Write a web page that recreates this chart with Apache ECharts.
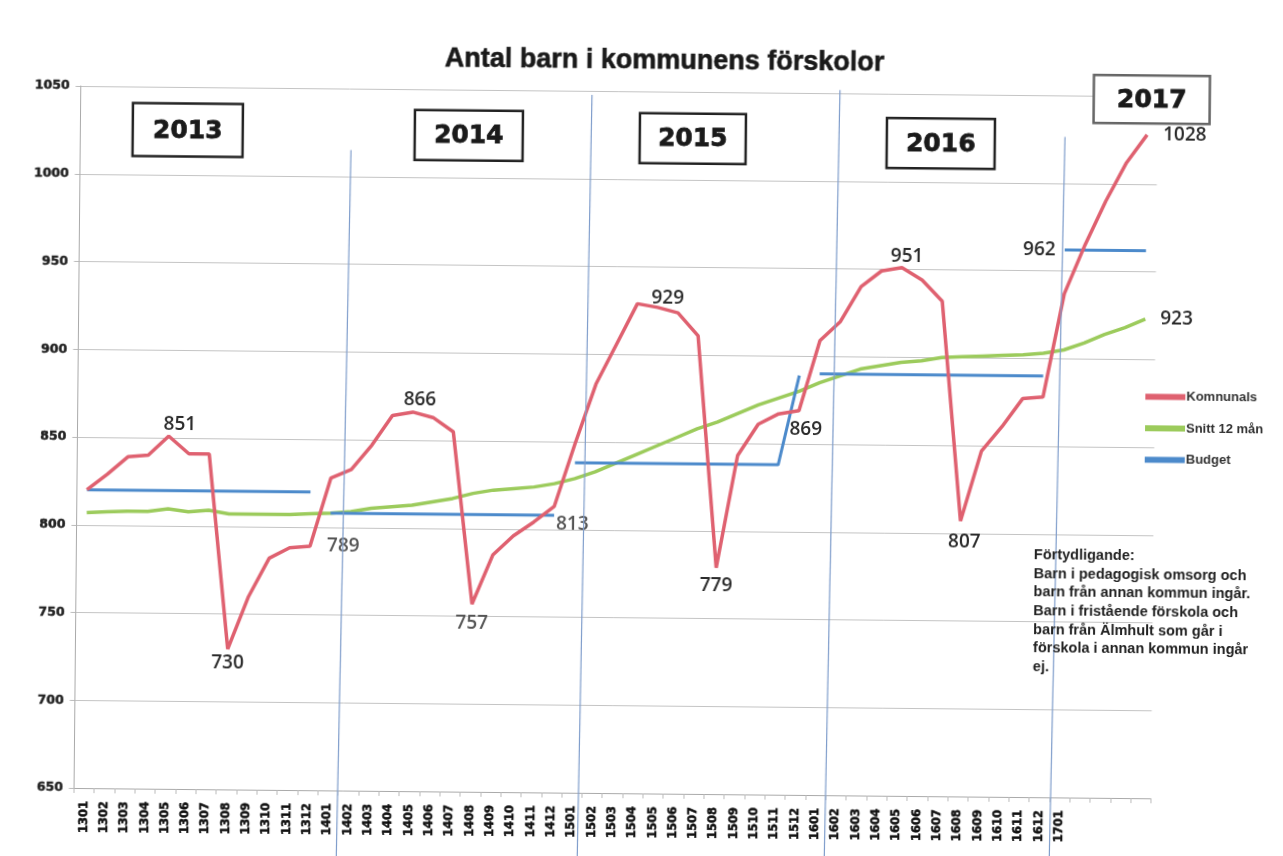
<!DOCTYPE html>
<html>
<head>
<meta charset="utf-8">
<script src="https://cdn.jsdelivr.net/npm/echarts@6/dist/echarts.min.js"></script>
<style>
html,body{margin:0;padding:0;background:#fff;overflow:hidden}
#c{width:1283px;height:856px;transform:rotate(0.55deg);transform-origin:80px 428px}
</style>
</head>
<body>
<div id="c"></div>
<script>
// ---- data ----
const months = ['1301','1302','1303','1304','1305','1306','1307','1308','1309','1310','1311','1312',
  '1401','1402','1403','1404','1405','1406','1407','1408','1409','1410','1411','1412',
  '1501','1502','1503','1504','1505','1506','1507','1508','1509','1510','1511','1512',
  '1601','1602','1603','1604','1605','1606','1607','1608','1609','1610','1611','1612',
  '1701','1702','1703','1704','1705'];
const lastLabelled = '1701';
const komnunals = [820,829,839,840,851,841,841,730,760,782,788,789,
  828,833,847,864,866,863,855,757,785,796,804,813,
  849,883,906,929,927,924,911,779,843,861,867,869,
  909,920,940,949,951,944,932,807,847,861,877,878,
  937,965,990,1012,1028];
const snitt12 = [807,807.5,808,808,809.5,808,809,807,807,807,807,807.5,
  808,809,811,812,813,815,817,820,822,823,824,826,
  829,833,838,843,848,853,858,862,867,872,876,880,
  885,889,893,895,897,898,900,900.5,901,901.5,902,903,
  905,909,914,918,923];
const budget2013 = [820,820,820,820,820,820,820,820,820,820,820,820];
const budget2014 = [808,808,808,808,808,808,808,808,808,808,808,808];
const budget2015 = [838,838,838,838,838,838,838,838,838,838,838,889];
const budget2016 = [890,890,890,890,890,890,890,890,890,890,890,890];
const budget2017 = [962,962,962,962,962];
const budgetStarts = ['1301','1401','1501','1601','1701'];
const yearBoxes = ['2013','2014','2015','2016','2017'];
const yTicks = {min:650, max:1050, interval:50};
const title = 'Antal barn i kommunens förskolor';
const seriesNames = ['Komnunals','Snitt 12 mån','Budget'];
const noteLines = ['Förtydligande:','Barn i pedagogisk omsorg och','barn från annan kommun ingår.',
  'Barn i fristående förskola och','barn från Älmhult som går i','förskola i annan kommun ingår','ej.'];
const redLabelMonths = ['1305','1308','1312','1405','1408','1412','1504','1508','1512','1605','1608','1705'];

// ---- styling / placement ----
const RED='#DF6170', GREEN='#9CCB5C', BLUE='#4C8ACB';
const lblBase = {show:true, fontFamily:'Open Sans', fontWeight:600, fontSize:19, color:'#2b2b2b'};
const placement = {
  '1305':{position:'top',distance:2,offset:[11,0]},
  '1308':{position:'bottom',distance:4},
  '1312':{position:'right',distance:17,color:'#555'},
  '1405':{position:'top',distance:3,offset:[7,0]},
  '1408':{position:'bottom',distance:10,color:'#555'},
  '1412':{position:'right',distance:2,offset:[0,18],color:'#555'},
  '1504':{position:'right',distance:14,offset:[0,-6]},
  '1508':{position:'bottom',distance:8},
  '1512':{position:'bottom',distance:9,offset:[7,0]},
  '1605':{position:'top',distance:2,offset:[5,0]},
  '1608':{position:'bottom',distance:12,offset:[4,0]},
  '1705':{position:'right',distance:16}
};
const THETA = 0.55*Math.PI/180, OX=80, OY=428;
// convert a position measured on the (tilted) reference into the un-tilted page frame
function unrot(x,y){const dx=x-OX, dy=y-OY, c=Math.cos(THETA), s=Math.sin(THETA);
  return [OX+dx*c+dy*s, OY-dx*s+dy*c];}

const redData = komnunals.map((v,i)=>{
  const m = months[i];
  return redLabelMonths.includes(m) ? {value:v, label:Object.assign({}, lblBase, placement[m])} : v;
});
const greenData = snitt12.map((v,i)=> i===snitt12.length-1 ?
  {value:v, label:Object.assign({}, lblBase,{position:'right',distance:15})} : v);

const budgets = [budget2013,budget2014,budget2015,budget2016,budget2017];
const budgetSeries = budgets.map((arr,k)=>{
  const start = months.indexOf(budgetStarts[k]);
  const data = months.map((m,i)=>{
    const j = i-start;
    if(j<0 || j>=arr.length) return null;
    if(k===4 && j===0) return {value:arr[j], label:Object.assign({}, lblBase,{position:'left',distance:9})};
    return arr[j];
  });
  return {name:'Budget', type:'line', data, symbol:'circle', symbolSize:0.01, showSymbol:true, connectNulls:false,
    lineStyle:{color:BLUE, width:3}, itemStyle:{color:BLUE}, label:{show:false}, z:3};
});

const chart = echarts.init(document.getElementById('c'));

const boxes = [
  {x:133,y:103,w:110,h:53},{x:415,y:110,w:108,h:50},{x:640,y:113,w:106,h:50},
  {x:887,y:118,w:108,h:50},{x:1094,y:75,w:116,h:48}];
const graphics = [];
boxes.forEach((b,i)=>{
  const p = unrot(b.x,b.y);
  graphics.push({type:'rect', shape:{x:p[0],y:p[1],width:b.w,height:b.h},
    style:{fill:'#fff', stroke: i===4?'#666':'#222', lineWidth:2.5}, z:1});
  graphics.push({type:'text', x:p[0]+b.w/2, y:p[1]+b.h/2+1,
    style:{text:yearBoxes[i], font:'bold 25px "DejaVu Sans"', fill:'#1a1a1a', stroke:'#1a1a1a', lineWidth:0.8,
      align:'center', verticalAlign:'middle'}, z:1});
});
[[351,150,336,870],[592,95,577,870],[840,90,824,870],[1065,137,1049,870]].forEach(l=>{
  const a = unrot(l[0],l[1]), b = unrot(l[2],l[3]);
  graphics.push({type:'line', shape:{x1:a[0],y1:a[1],x2:b[0],y2:b[1]},
    style:{stroke:'#7F9DCB', lineWidth:1.2}, z:5});
});
const np = unrot(1034,546);
graphics.push({type:'text', x:np[0], y:np[1],
  style:{text:noteLines.join('\n'), font:'bold 14.5px "Liberation Sans"', lineHeight:18.6, fill:'#222'}, z:12});

chart.setOption({
  animation:false,
  backgroundColor:'#fff',
  title:{text:title, left:656, top:37, textAlign:'center',
    textStyle:{fontFamily:'Liberation Sans', fontWeight:'bold', fontSize:27, color:'#1a1a1a',
      textBorderColor:'#1a1a1a', textBorderWidth:0.6}},
  grid:{left:77.4, right:128.6, top:86, bottom:68, containLabel:false},
  legend:{data:seriesNames, orient:'vertical', left:1140, top:375, itemGap:18.5,
    itemWidth:40, itemHeight:6, icon:'rect',
    textStyle:{fontFamily:'Liberation Sans', fontWeight:'bold', fontSize:13, color:'#333', padding:[0,0,0,-4]}},
  xAxis:{type:'category', data:months, boundaryGap:true,
    axisLine:{lineStyle:{color:'#aaa'}}, axisTick:{show:true, lineStyle:{color:'#bbb'}},
    axisLabel:{rotate:90, fontFamily:'DejaVu Sans', fontWeight:'bold', fontSize:11.5, color:'#111', margin:13,
      textBorderColor:'#111', textBorderWidth:0.5,
      interval:0, formatter:(v,i)=> i<=months.indexOf(lastLabelled) ? v : ''}},
  yAxis:{type:'value', min:yTicks.min, max:yTicks.max, interval:yTicks.interval,
    axisLine:{show:true, lineStyle:{color:'#aaa'}}, axisTick:{show:true, lineStyle:{color:'#bbb'}},
    splitLine:{lineStyle:{color:'#c4c4c4', width:1}},
    axisLabel:{fontFamily:'DejaVu Sans', fontWeight:'bold', fontSize:12.5, color:'#222', margin:11,
      textBorderColor:'#222', textBorderWidth:0.5, formatter:v=>String(v)}},
  series:[
    {name:'Komnunals', type:'line', data:redData, symbol:'circle', symbolSize:0.01, showSymbol:true,
      lineStyle:{color:RED, width:3.5}, itemStyle:{color:RED}, label:{show:false}, z:4},
    {name:'Snitt 12 mån', type:'line', data:greenData, symbol:'circle', symbolSize:0.01, showSymbol:true,
      lineStyle:{color:GREEN, width:3.5}, itemStyle:{color:GREEN}, label:{show:false}, z:3}
  ].concat(budgetSeries),
  graphic:graphics
});
</script>
</body>
</html>
